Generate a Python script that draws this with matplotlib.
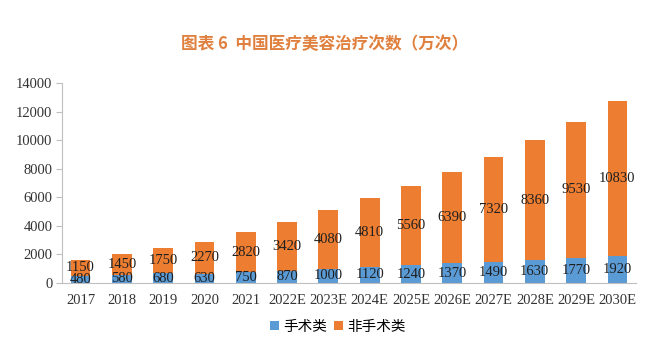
import numpy as np
import matplotlib.pyplot as plt
from matplotlib.font_manager import FontProperties

years = ["2017", "2018", "2019", "2020", "2021", "2022E", "2023E", "2024E",
         "2025E", "2026E", "2027E", "2028E", "2029E", "2030E"]
surgical = [480, 580, 680, 630, 750, 870, 1000, 1120, 1240, 1370, 1490, 1630, 1770, 1920]
non_surgical = [1150, 1450, 1750, 2270, 2820, 3420, 4080, 4810, 5560, 6390, 7320, 8360, 9530, 10830]

blue = "#5B9BD5"
orange = "#ED7D31"
grey = "#BFBFBF"
serif = ["Liberation Serif", "DejaVu Serif"]
cjk = ["Noto Sans CJK SC", "DejaVu Sans"]

fig = plt.figure(figsize=(6.5, 3.42), dpi=100)
ax = fig.add_axes([62 / 650, 59 / 342, 574 / 650, 200 / 342])

x = np.arange(len(years))
w = 0.48
b1 = ax.bar(x, surgical, w, color=blue, label="手术类")
b2 = ax.bar(x, non_surgical, w, bottom=surgical, color=orange, label="非手术类")

for i in x:
    ax.text(i, surgical[i] / 2, str(surgical[i]), ha="center", va="center",
            fontsize=10.5, family=serif, color="#1F1F1F")
    ax.text(i, surgical[i] + non_surgical[i] / 2, str(non_surgical[i]), ha="center",
            va="center", fontsize=10.5, family=serif, color="#1F1F1F")

ax.set_xlim(-0.45, len(years) - 0.55)
ax.set_ylim(0, 14000)
ax.set_yticks(range(0, 14001, 2000))
ax.set_xticks(x)
ax.set_xticklabels(years)
for lab in ax.get_xticklabels() + ax.get_yticklabels():
    lab.set_family(serif)
    lab.set_fontsize(10.5)
    lab.set_color("#333333")

for s in ["top", "right"]:
    ax.spines[s].set_visible(False)
ax.spines["left"].set_color(grey)
ax.spines["bottom"].set_color(grey)
ax.tick_params(axis="y", color=grey, length=4, pad=3)
ax.tick_params(axis="x", length=0, pad=8)

fig.text(0.5, 0.87, "图表 6  中国医疗美容治疗次数（万次）", ha="center", va="center",
         fontsize=12, fontweight="bold", color="#E0803E", family=cjk)

fig.legend(handles=[b1, b2], loc="center", bbox_to_anchor=(0.52, 0.045), ncol=2,
           frameon=False, prop=FontProperties(family=cjk, size=10.5),
           handlelength=0.6, handleheight=0.6, handletextpad=0.3, columnspacing=0.5)

fig.savefig("out.png", dpi=100)
